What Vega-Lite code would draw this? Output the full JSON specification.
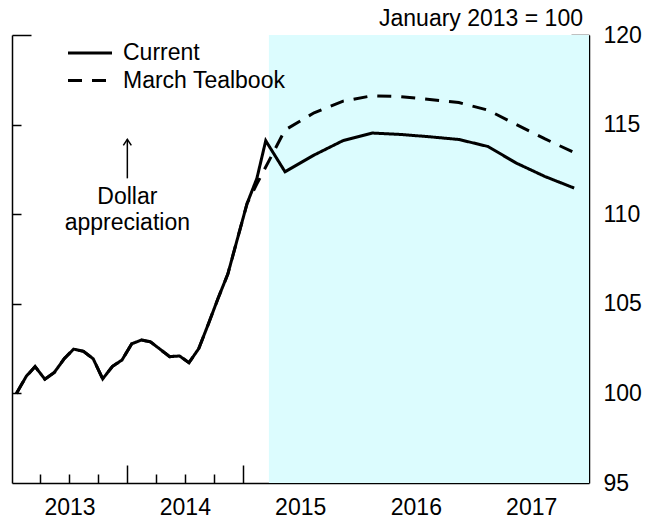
{
  "$schema": "https://vega.github.io/schema/vega-lite/v6.json",
  "width": 577,
  "height": 448,
  "autosize": {"type": "none"},
  "padding": {"left": 12, "top": 35, "right": 71, "bottom": 37},
  "background": "white",
  "config": {
    "font": "Liberation Sans",
    "view": {"stroke": null},
    "axis": {
      "domainColor": "black",
      "tickColor": "black",
      "domainWidth": 1.5,
      "tickWidth": 1.5,
      "labelFont": "Liberation Sans",
      "labelFontSize": 23,
      "labelColor": "black",
      "grid": false,
      "zindex": 1
    }
  },
  "title": {
    "text": "January 2013 = 100",
    "anchor": "end",
    "frame": "group",
    "fontSize": 23,
    "fontWeight": "normal",
    "font": "Liberation Sans",
    "color": "black",
    "baseline": "alphabetic",
    "offset": -25,
    "dx": -6
  },
  "datasets": {
    "lines": [
      {"date": "2013-01-15", "value": 100.0, "series": "Current"},
      {"date": "2013-02-15", "value": 100.95, "series": "Current"},
      {"date": "2013-03-15", "value": 101.5, "series": "Current"},
      {"date": "2013-04-15", "value": 100.79, "series": "Current"},
      {"date": "2013-05-15", "value": 101.17, "series": "Current"},
      {"date": "2013-06-15", "value": 101.93, "series": "Current"},
      {"date": "2013-07-15", "value": 102.47, "series": "Current"},
      {"date": "2013-08-15", "value": 102.35, "series": "Current"},
      {"date": "2013-09-15", "value": 101.93, "series": "Current"},
      {"date": "2013-10-15", "value": 100.81, "series": "Current"},
      {"date": "2013-11-15", "value": 101.51, "series": "Current"},
      {"date": "2013-12-15", "value": 101.86, "series": "Current"},
      {"date": "2014-01-15", "value": 102.77, "series": "Current"},
      {"date": "2014-02-15", "value": 102.98, "series": "Current"},
      {"date": "2014-03-15", "value": 102.88, "series": "Current"},
      {"date": "2014-04-15", "value": 102.46, "series": "Current"},
      {"date": "2014-05-15", "value": 102.05, "series": "Current"},
      {"date": "2014-06-15", "value": 102.09, "series": "Current"},
      {"date": "2014-07-15", "value": 101.71, "series": "Current"},
      {"date": "2014-08-15", "value": 102.5, "series": "Current"},
      {"date": "2014-09-15", "value": 103.9, "series": "Current"},
      {"date": "2014-10-15", "value": 105.3, "series": "Current"},
      {"date": "2014-11-15", "value": 106.66, "series": "Current"},
      {"date": "2014-12-15", "value": 108.6, "series": "Current"},
      {"date": "2015-01-15", "value": 110.6, "series": "Current"},
      {"date": "2015-02-15", "value": 112.0, "series": "Current"},
      {"date": "2015-03-15", "value": 114.1, "series": "Current"},
      {"date": "2015-05-15", "value": 112.37, "series": "Current"},
      {"date": "2015-08-15", "value": 113.3, "series": "Current"},
      {"date": "2015-11-15", "value": 114.11, "series": "Current"},
      {"date": "2016-02-15", "value": 114.53, "series": "Current"},
      {"date": "2016-05-15", "value": 114.45, "series": "Current"},
      {"date": "2016-08-15", "value": 114.32, "series": "Current"},
      {"date": "2016-11-15", "value": 114.17, "series": "Current"},
      {"date": "2017-02-15", "value": 113.78, "series": "Current"},
      {"date": "2017-05-15", "value": 112.86, "series": "Current"},
      {"date": "2017-08-15", "value": 112.1, "series": "Current"},
      {"date": "2017-11-15", "value": 111.46, "series": "Current"},
      {"date": "2013-01-15", "value": 100.0, "series": "March Tealbook"},
      {"date": "2013-02-15", "value": 100.95, "series": "March Tealbook"},
      {"date": "2013-03-15", "value": 101.5, "series": "March Tealbook"},
      {"date": "2013-04-15", "value": 100.79, "series": "March Tealbook"},
      {"date": "2013-05-15", "value": 101.17, "series": "March Tealbook"},
      {"date": "2013-06-15", "value": 101.93, "series": "March Tealbook"},
      {"date": "2013-07-15", "value": 102.47, "series": "March Tealbook"},
      {"date": "2013-08-15", "value": 102.35, "series": "March Tealbook"},
      {"date": "2013-09-15", "value": 101.93, "series": "March Tealbook"},
      {"date": "2013-10-15", "value": 100.81, "series": "March Tealbook"},
      {"date": "2013-11-15", "value": 101.51, "series": "March Tealbook"},
      {"date": "2013-12-15", "value": 101.86, "series": "March Tealbook"},
      {"date": "2014-01-15", "value": 102.77, "series": "March Tealbook"},
      {"date": "2014-02-15", "value": 102.98, "series": "March Tealbook"},
      {"date": "2014-03-15", "value": 102.88, "series": "March Tealbook"},
      {"date": "2014-04-15", "value": 102.46, "series": "March Tealbook"},
      {"date": "2014-05-15", "value": 102.05, "series": "March Tealbook"},
      {"date": "2014-06-15", "value": 102.09, "series": "March Tealbook"},
      {"date": "2014-07-15", "value": 101.71, "series": "March Tealbook"},
      {"date": "2014-08-15", "value": 102.5, "series": "March Tealbook"},
      {"date": "2014-09-15", "value": 103.9, "series": "March Tealbook"},
      {"date": "2014-10-15", "value": 105.3, "series": "March Tealbook"},
      {"date": "2014-11-15", "value": 106.66, "series": "March Tealbook"},
      {"date": "2014-12-15", "value": 108.6, "series": "March Tealbook"},
      {"date": "2015-01-15", "value": 110.6, "series": "March Tealbook"},
      {"date": "2015-02-15", "value": 111.69, "series": "March Tealbook"},
      {"date": "2015-05-15", "value": 114.7, "series": "March Tealbook"},
      {"date": "2015-08-15", "value": 115.66, "series": "March Tealbook"},
      {"date": "2015-11-15", "value": 116.31, "series": "March Tealbook"},
      {"date": "2016-02-15", "value": 116.61, "series": "March Tealbook"},
      {"date": "2016-05-15", "value": 116.56, "series": "March Tealbook"},
      {"date": "2016-08-15", "value": 116.4, "series": "March Tealbook"},
      {"date": "2016-11-15", "value": 116.23, "series": "March Tealbook"},
      {"date": "2017-02-15", "value": 115.81, "series": "March Tealbook"},
      {"date": "2017-05-15", "value": 115.01, "series": "March Tealbook"},
      {"date": "2017-08-15", "value": 114.2, "series": "March Tealbook"},
      {"date": "2017-11-15", "value": 113.44, "series": "March Tealbook"}
    ],
    "shade": [
      {"start": "2015-03-25", "end": "2018-01-01", "top": 120, "bottom": 95}
    ],
    "arrow": [
      {"date": "2014-01-01", "tip": 114.18, "base": 112.0}
    ],
    "notes": [
      {"date": "2014-01-01", "value": 110.97, "label": "Dollar"},
      {"date": "2014-01-01", "value": 109.52, "label": "appreciation"}
    ]
  },
  "resolve": {"axis": {"x": "independent", "y": "independent"}},
  "layer": [
    {
      "data": {"name": "shade"},
      "mark": {"type": "rect", "color": "#dcfcfe"},
      "encoding": {
        "x": {
          "field": "start",
          "type": "temporal",
          "scale": {
            "type": "utc",
            "domain": [
              {"year": 2013, "month": 1, "date": 1, "utc": true},
              {"year": 2018, "month": 1, "date": 1, "utc": true}
            ]
          },
          "axis": {
            "orient": "bottom",
            "title": null,
            "labels": false,
            "domain": true,
            "tickSize": -9,
            "values": [
              {"year": 2013, "month": 4, "date": 1, "utc": true},
              {"year": 2013, "month": 7, "date": 1, "utc": true},
              {"year": 2013, "month": 10, "date": 1, "utc": true},
              {"year": 2014, "month": 4, "date": 1, "utc": true},
              {"year": 2014, "month": 7, "date": 1, "utc": true},
              {"year": 2014, "month": 10, "date": 1, "utc": true},
              {"year": 2015, "month": 4, "date": 1, "utc": true},
              {"year": 2015, "month": 7, "date": 1, "utc": true},
              {"year": 2015, "month": 10, "date": 1, "utc": true},
              {"year": 2016, "month": 4, "date": 1, "utc": true},
              {"year": 2016, "month": 7, "date": 1, "utc": true},
              {"year": 2016, "month": 10, "date": 1, "utc": true},
              {"year": 2017, "month": 4, "date": 1, "utc": true},
              {"year": 2017, "month": 7, "date": 1, "utc": true},
              {"year": 2017, "month": 10, "date": 1, "utc": true}
            ]
          }
        },
        "x2": {"field": "end"},
        "y": {
          "field": "top",
          "type": "quantitative",
          "scale": {"domain": [95, 120], "nice": false, "zero": false},
          "axis": {
            "orient": "left",
            "title": null,
            "labels": false,
            "domain": true,
            "tickSize": -9,
            "values": [100, 105, 110, 115]
          }
        },
        "y2": {"field": "bottom"}
      }
    },
    {
      "data": {"name": "lines"},
      "transform": [{"filter": "datum.series === 'March Tealbook'"}],
      "mark": {"type": "line", "color": "black", "strokeWidth": 3},
      "encoding": {
        "x": {
          "field": "date",
          "type": "temporal",
          "axis": {
            "orient": "bottom",
            "title": null,
            "labels": false,
            "domain": false,
            "tickSize": -18,
            "values": [
              {"year": 2014, "month": 1, "date": 1, "utc": true},
              {"year": 2015, "month": 1, "date": 1, "utc": true},
              {"year": 2016, "month": 1, "date": 1, "utc": true},
              {"year": 2017, "month": 1, "date": 1, "utc": true}
            ]
          }
        },
        "y": {
          "field": "value",
          "type": "quantitative",
          "axis": {
            "orient": "right",
            "title": null,
            "labels": false,
            "domain": true,
            "tickSize": -9,
            "values": [100, 105, 110, 115]
          }
        },
        "strokeDash": {
          "field": "series",
          "type": "nominal",
          "scale": {"domain": ["Current", "March Tealbook"], "range": [[1, 0], [14, 10]]},
          "legend": {
            "title": null,
            "orient": "none",
            "legendX": 65.5,
            "legendY": 5.5,
            "symbolType": "M-2,0L2,0",
            "symbolSize": 484,
            "symbolStrokeWidth": 3,
            "symbolStrokeColor": "black",
            "labelFontSize": 23,
            "labelFont": "Liberation Sans",
            "labelColor": "black",
            "labelOffset": 20.5,
            "labelLimit": 400,
            "rowPadding": 2.5,
            "padding": 0
          }
        }
      }
    },
    {
      "data": {"name": "lines"},
      "transform": [{"filter": "datum.series === 'Current'"}],
      "mark": {"type": "line", "color": "black", "strokeWidth": 3},
      "encoding": {
        "x": {
          "field": "date",
          "type": "temporal",
          "axis": {
            "orient": "bottom",
            "title": null,
            "ticks": false,
            "domain": false,
            "labelPadding": 13,
            "format": "%Y",
            "values": [
              {"year": 2013, "month": 7, "date": 2, "utc": true},
              {"year": 2014, "month": 7, "date": 2, "utc": true},
              {"year": 2015, "month": 7, "date": 2, "utc": true},
              {"year": 2016, "month": 7, "date": 2, "utc": true},
              {"year": 2017, "month": 7, "date": 2, "utc": true}
            ]
          }
        },
        "y": {
          "field": "value",
          "type": "quantitative",
          "axis": {
            "orient": "right",
            "title": null,
            "ticks": false,
            "domain": false,
            "labelPadding": 14,
            "values": [95, 100, 105, 110, 115, 120]
          }
        },
        "strokeDash": {
          "field": "series",
          "type": "nominal",
          "scale": {"domain": ["Current", "March Tealbook"], "range": [[1, 0], [14, 10]]},
          "legend": {
            "title": null,
            "orient": "none",
            "legendX": 65.5,
            "legendY": 5.5,
            "symbolType": "M-2,0L2,0",
            "symbolSize": 484,
            "symbolStrokeWidth": 3,
            "symbolStrokeColor": "black",
            "labelFontSize": 23,
            "labelFont": "Liberation Sans",
            "labelColor": "black",
            "labelOffset": 20.5,
            "labelLimit": 400,
            "rowPadding": 2.5,
            "padding": 0
          }
        }
      }
    },
    {
      "data": {"name": "arrow"},
      "mark": {"type": "rule", "color": "black", "strokeWidth": 1.5},
      "encoding": {
        "x": {"field": "date", "type": "temporal", "axis": null},
        "y": {
          "field": "tip",
          "type": "quantitative",
          "axis": {
            "orient": "left",
            "title": null,
            "labels": false,
            "domain": false,
            "tickSize": -19,
            "values": [120]
          }
        },
        "y2": {"field": "base"}
      }
    },
    {
      "data": {"name": "arrow"},
      "mark": {
        "type": "point",
        "shape": "M-1,1.5L0,0L1,1.5",
        "filled": false,
        "stroke": "black",
        "strokeWidth": 1.5,
        "size": 64,
        "opacity": 1
      },
      "encoding": {
        "x": {"field": "date", "type": "temporal", "axis": null},
        "y": {
          "field": "tip",
          "type": "quantitative",
          "axis": {
            "orient": "right",
            "title": null,
            "labels": false,
            "domain": false,
            "tickSize": -18,
            "values": [120]
          }
        }
      }
    },
    {
      "data": {"name": "notes"},
      "mark": {
        "type": "text",
        "fontSize": 23,
        "font": "Liberation Sans",
        "color": "black",
        "align": "center",
        "baseline": "middle"
      },
      "encoding": {
        "x": {"field": "date", "type": "temporal", "axis": null},
        "y": {"field": "value", "type": "quantitative", "axis": null},
        "text": {"field": "label"}
      }
    }
  ]
}
